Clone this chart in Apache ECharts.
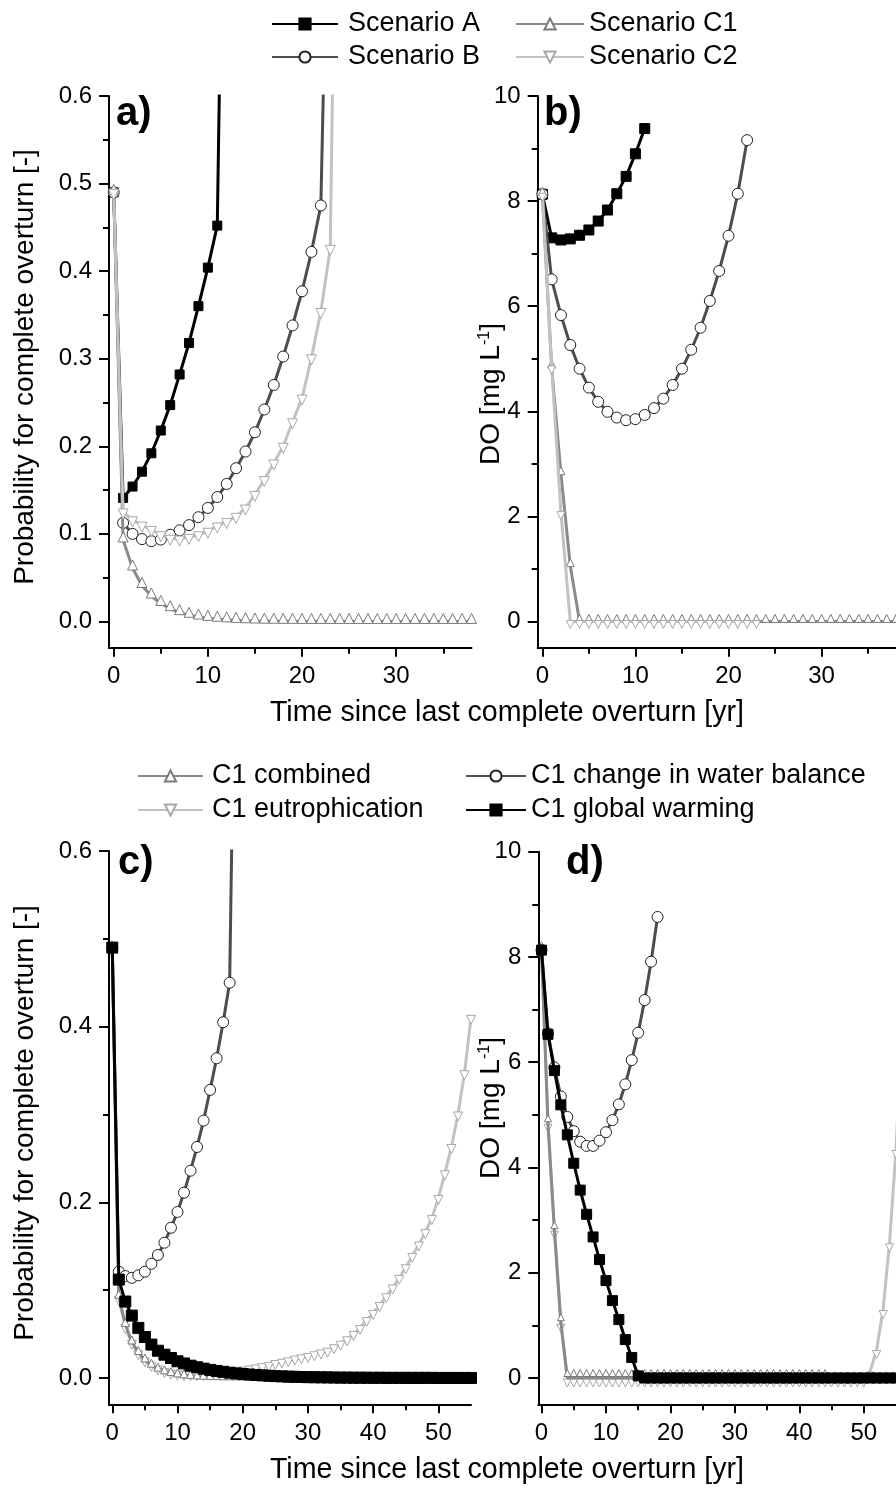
<!DOCTYPE html>
<html><head><meta charset="utf-8">
<script src="https://cdn.jsdelivr.net/npm/echarts@6/dist/echarts.min.js"></script>
<style>html,body{margin:0;padding:0;background:#fff}#c{width:896px;height:1488px}</style>
</head><body><div id="c"></div>
<script>
// ---------- DATA (x = years since last complete overturn, starting at 0, step 1) ----------
// Panel a: probability for complete overturn
const probA  = [0.49,0.141,0.154,0.171,0.192,0.218,0.247,0.282,0.318,0.360,0.404,0.452,1.15];
const probB  = [0.49,0.1125,0.100,0.094,0.0916,0.0935,0.099,0.104,0.110,0.119,0.1296,0.142,0.157,0.175,0.194,0.216,0.242,0.270,0.3025,0.338,0.377,0.422,0.475,0.97];
const probC1 = [0.49,0.093,0.061,0.041,0.029,0.0205,0.0145,0.010,0.007,0.005,0.0035,0.0025,0.0018,0.0012,0.0008,0.0005,0.0003,0.0002,0.0001,0.0001,0,0,0,0,0,0,0,0,0,0,0,0,0,0,0,0,0,0,0,0,0,0,0,0,0,0];
const probC2 = [0.49,0.125,0.116,0.110,0.105,0.099,0.095,0.094,0.096,0.099,0.103,0.109,0.114,0.120,0.1295,0.145,0.162,0.181,0.200,0.228,0.255,0.301,0.354,0.426,1.2];
// Panel b: DO [mg/L]
const doA  = [8.13,7.30,7.26,7.28,7.35,7.45,7.62,7.83,8.14,8.47,8.90,9.38];
const doB  = [8.13,6.51,5.83,5.26,4.81,4.45,4.18,3.99,3.88,3.83,3.85,3.93,4.06,4.24,4.50,4.81,5.17,5.59,6.10,6.67,7.34,8.14,9.16];
const doC1 = [8.13,4.84,2.81,1.06,0,0,0,0,0,0,0,0,0,0,0,0,0,0,0,0,0,0,0,0,0,0,0,0,0,0,0,0,0,0,0,0,0,0,0,0,0,0,0,0,0];
const doC2 = [8.13,4.84,2.07,0,0,0,0,0,0,0,0,0,0,0,0,0,0,0,0,0,0,0,0,0];
// Panel c: probability, C1 drivers (C1 combined = probC1)
const probWB = [0.49,0.121,0.116,0.114,0.1168,0.121,0.130,0.140,0.154,0.171,0.189,0.211,0.236,0.263,0.293,0.328,0.364,0.405,0.450,0.95];
const probGW = [0.49,0.112,0.087,0.071,0.057,0.0466,0.038,0.031,0.0265,0.0227,0.019,0.0165,0.014,0.0122,0.0106,0.0092,0.008,0.007,0.006,0.0052,0.0045,0.0039,0.0034,0.0029,0.0025,0.0021,0.0018,0.0015,0.0013,0.0011,0.0009,0.0008,0.0007,0.0006,0.0005,0.0004,0.0004,0.0003,0.0003,0.0002,0.0002,0.0002,0.0001,0.0001,0.0001,0.0001,0.0001,0.0001,0.0001,0.0001,0,0,0,0,0,0];
const probEU = [0.49,0.09,0.058,0.04,0.028,0.02,0.015,0.011,0.008,0.006,0.005,0.0045,0.0042,0.0042,0.0045,0.005,0.0056,0.0063,0.0072,0.0082,0.0094,0.0108,0.012,0.0135,0.015,0.017,0.0185,0.02,0.022,0.0235,0.025,0.027,0.029,0.031,0.035,0.039,0.044,0.05,0.057,0.066,0.074,0.083,0.093,0.103,0.114,0.126,0.139,0.152,0.166,0.182,0.205,0.233,0.263,0.30,0.347,0.41];
// Panel d: DO, C1 drivers (C1 combined = doC1)
const doWB = [8.13,6.55,5.90,5.35,4.96,4.69,4.49,4.41,4.41,4.51,4.67,4.90,5.20,5.58,6.04,6.56,7.18,7.91,8.76];
const doGW = [8.13,6.53,5.84,5.19,4.62,4.08,3.57,3.11,2.68,2.25,1.85,1.47,1.11,0.73,0.39,0.04,0,0,0,0,0,0,0,0,0,0,0,0,0,0,0,0,0,0,0,0,0,0,0,0,0,0,0,0,0,0,0,0,0,0,0,0,0,0,0,0];
const doEU = [8.13,4.84,2.81,1.04,0,0,0,0,0,0,0,0,0,0,0,0,0,0,0,0,0,0,0,0,0,0,0,0,0,0,0,0,0,0,0,0,0,0,0,0,0,0,0,0,0,0,0,0,0,0,0,0.13,0.54,1.30,2.57,4.34,6.9];

// Tick labels / tick positions
const probTicksA = [0,0.1,0.2,0.3,0.4,0.5,0.6], probMinorA = [0.05,0.15,0.25,0.35,0.45,0.55];
const probTicksC = [0,0.2,0.4,0.6], probMinorC = [0.1,0.3,0.5];
const doTicks = [0,2,4,6,8,10], doMinor = [1,3,5,7,9];
const yrTicksTop = [0,10,20,30], yrMinorTop = [5,15,25,35];
const yrTicksBot = [0,10,20,30,40,50], yrMinorBot = [5,15,25,35,45];

const FONT = '"Liberation Sans", Arial, sans-serif';
function pairs(arr){ return arr.map((v,i)=>[i,v]); }

const grids = [
  {left:109, top:96, width:362.5, height:551.7},
  {left:537.7, top:96, width:362, height:551.7},
  {left:109, top:851, width:362, height:553.3},
  {left:538.3, top:851.7, width:362, height:552.6}
];
const xAxes = [], yAxes = [];
function addAxes(g, xr, xt, xm, yr, yt, ym, fmt){
  const ls = {color:'#000', width:2};
  xAxes.push({gridIndex:g, type:'value', position:'bottom', min:xr[0], max:xr[1],
    axisLine:{show:true, onZero:false, lineStyle:ls},
    axisTick:{show:true, customValues:xt, length:9, lineStyle:ls},
    axisLabel:{customValues:xt, fontSize:24, color:'#000', margin:17, fontFamily:FONT},
    splitLine:{show:false}});
  xAxes.push({gridIndex:g, type:'value', position:'bottom', min:xr[0], max:xr[1],
    axisLine:{show:false, onZero:false},
    axisTick:{show:true, customValues:xm, length:6, lineStyle:ls},
    axisLabel:{show:false}, splitLine:{show:false}});
  yAxes.push({gridIndex:g, type:'value', position:'left', min:yr[0], max:yr[1],
    axisLine:{show:true, onZero:false, lineStyle:ls},
    axisTick:{show:true, customValues:yt, length:10, lineStyle:ls},
    axisLabel:{customValues:yt, fontSize:24, color:'#000', margin:17, fontFamily:FONT, formatter:fmt},
    splitLine:{show:false}});
  yAxes.push({gridIndex:g, type:'value', position:'left', min:yr[0], max:yr[1],
    axisLine:{show:false, onZero:false},
    axisTick:{show:true, customValues:ym, length:6, lineStyle:ls},
    axisLabel:{show:false}, splitLine:{show:false}});
}
const f1 = v => v.toFixed(1), f0 = v => String(Math.round(v));
addAxes(0, [-0.5,38], yrTicksTop, yrMinorTop, [-0.03,0.6], probTicksA, probMinorA, f1);
addAxes(1, [-0.5,38], yrTicksTop, yrMinorTop, [-0.5,10], doTicks, doMinor, f0);
addAxes(2, [-0.5,55], yrTicksBot, yrMinorBot, [-0.03,0.6], probTicksC, probMinorC, f1);
addAxes(3, [-0.5,55], yrTicksBot, yrMinorBot, [-0.5,10], doTicks, doMinor, f0);

// styles
const ST = {
  sq:   {symbol:'rect', itemStyle:{color:'#000', borderColor:'#000', borderWidth:1}, lineStyle:{color:'#000', width:3}},
  circ: {symbol:'circle', itemStyle:{color:'#fff', borderColor:'#222', borderWidth:1}, lineStyle:{color:'#4d4d4d', width:3}},
  up:   {symbol:'triangle', itemStyle:{color:'#fff', borderColor:'#7a7a7a', borderWidth:1}, lineStyle:{color:'#8a8a8a', width:3}},
  down: {symbol:'triangle', symbolRotate:180, itemStyle:{color:'#fff', borderColor:'#a8a8a8', borderWidth:1}, lineStyle:{color:'#c2c2c2', width:3}}
};
function ser(name, g, arr, st, size, z, offs){
  const s = ST[st];
  return Object.assign({type:'line', name, xAxisIndex:g*2, yAxisIndex:g*2, data:pairs(arr),
    symbolSize:size, showAllSymbol:true, clip:true, animation:false, z:z,
    symbolOffset: offs || [0,0], emphasis:{disabled:true}}, JSON.parse(JSON.stringify(s)));
}
const series = [
  ser('Scenario A', 0, probA, 'sq', 9, 2),
  ser('Scenario B', 0, probB, 'circ', 11, 3),
  ser('Scenario C1', 0, probC1, 'up', 10, 4, [0,-3]),
  ser('Scenario C2', 0, probC2, 'down', 10, 5, [0,2]),
  ser('Scenario A', 1, doA, 'sq', 10, 2),
  ser('Scenario B', 1, doB, 'circ', 11, 3),
  ser('Scenario C1', 1, doC1.slice(0,39), 'up', 8, 4, [0,-3]),
  ser('Scenario C2', 1, doC2, 'down', 8, 5, [0,3]),
  ser('C1 eutrophication', 2, probEU, 'down', 9, 2, [0,2]),
  ser('C1 combined', 2, probC1, 'up', 8, 3, [0,-2]),
  ser('C1 change in water balance', 2, probWB, 'circ', 11, 4),
  ser('C1 global warming', 2, probGW, 'sq', 11, 5),
  ser('C1 eutrophication', 3, doEU, 'down', 8, 2, [0,5]),
  ser('C1 combined', 3, doC1, 'up', 7, 3, [0,-5]),
  ser('C1 change in water balance', 3, doWB, 'circ', 11, 4),
  ser('C1 global warming', 3, doGW, 'sq', 10, 5)
];

function leg(name, left, top, w, pad){
  return {data:[name], left:left, top:top, orient:'horizontal', padding:0, itemWidth:w, itemHeight:14,
    selectedMode:false, textStyle:{fontSize:27, color:'#000', fontFamily:FONT, padding:[0,0,0,pad]}};
}
const legends = [
  leg('Scenario A', 271, 10.5, 66, 5), leg('Scenario C1', 515, 10.5, 68, 0),
  leg('Scenario B', 271, 43.5, 66, 5), leg('Scenario C2', 515, 43.5, 68, 0),
  leg('C1 combined', 137, 762.5, 65, 4), leg('C1 change in water balance', 465, 762.5, 60, 0),
  leg('C1 eutrophication', 137, 796.5, 65, 4), leg('C1 global warming', 465, 796.5, 60, 0)
];

function rtxt(x, y, text, rot, fs){
  return {type:'text', x:x, y:y, rotation:rot, silent:true,
    style:{text:text, fontSize:fs||28, fontFamily:FONT, fill:'#000', align:'center', verticalAlign:'middle'}};
}
const doRich = {n:{fontSize:28, fontFamily:FONT, fill:'#000'}, s:{fontSize:16, fontFamily:FONT, fill:'#000', verticalAlign:'top'}};
function lab(t, x, y){
  return {type:'text', x:x, y:y, silent:true, style:{text:t, fontSize:40, fontWeight:'bold', fontFamily:FONT, fill:'#000', align:'left', verticalAlign:'top'}};
}
const graphics = [
  rtxt(25, 367, 'Probability for complete overturn [-]', Math.PI/2),
  rtxt(25, 1123, 'Probability for complete overturn [-]', Math.PI/2),
  {type:'text', x:491, y:394, rotation:Math.PI/2, silent:true, style:{text:'{n|DO [mg L}{s|-1}{n|]}', rich:doRich, align:'center', verticalAlign:'middle'}},
  {type:'text', x:491, y:1108, rotation:Math.PI/2, silent:true, style:{text:'{n|DO [mg L}{s|-1}{n|]}', rich:doRich, align:'center', verticalAlign:'middle'}},
  rtxt(507, 713, 'Time since last complete overturn [yr]', 0, 28.6),
  rtxt(507, 1470, 'Time since last complete overturn [yr]', 0, 28.6),
  lab('a)', 116, 94), lab('b)', 544, 94), lab('c)', 118, 843), lab('d)', 566, 843)
];

const chart = echarts.init(document.getElementById('c'), null, {renderer:'canvas'});
chart.setOption({
  animation:false,
  backgroundColor:'#fff',
  textStyle:{fontFamily:FONT},
  grid:grids, xAxis:xAxes, yAxis:yAxes, series:series, legend:legends, graphic:graphics
});
</script></body></html>
